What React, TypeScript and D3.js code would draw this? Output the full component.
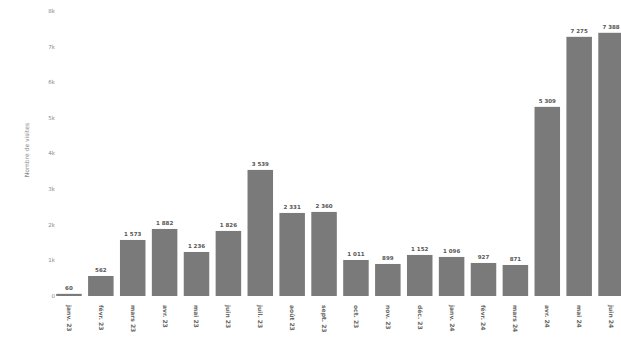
import React from "react";
import * as d3 from "d3";

const categories = [
  "janv. 23", "févr. 23", "mars 23", "avr. 23", "mai 23", "juin 23",
  "juil. 23", "août 23", "sept. 23", "oct. 23", "nov. 23", "déc. 23",
  "janv. 24", "févr. 24", "mars 24", "avr. 24", "mai 24", "juin 24",
];
const values = [60, 562, 1573, 1882, 1236, 1826, 3539, 2331, 2360, 1011, 899, 1152, 1096, 927, 871, 5309, 7275, 7388];
const yTicks = [0, 1000, 2000, 3000, 4000, 5000, 6000, 7000, 8000];
const yTitle = "Nombre de visites";

const W = 621, H = 357;

export default function App() {
  const x = d3.scaleBand<string>().domain(categories).range([53, 627]).paddingInner(0.2).paddingOuter(0.1);
  const y = d3.scaleLinear().domain([0, 8000]).range([296, 11]);
  const fmtTick = d3.format("~s");
  const fmtVal = (v: number) => d3.format(",")(v).replace(/,/g, " ");
  return (
    <svg width={W} height={H} style={{ position: "absolute", left: 0, top: 0, background: "#fff" }}
      fontFamily="DejaVu Sans, sans-serif">
      {yTicks.map((t) => (
        <text key={t} x={55} y={y(t)} dy="0.35em" textAnchor="end" fontSize={5.5} fill="#888">
          {fmtTick(t)}
        </text>
      ))}
      <text transform={`translate(29,150) rotate(-90)`} textAnchor="middle" fontSize={6} fill="#888">
        {yTitle}
      </text>
      {categories.map((c, i) => {
        const bx = x(c)!;
        const bw = x.bandwidth();
        const top = y(values[i]);
        const h = Math.max(y(0) - top, 1.5);
        return (
          <g key={c}>
            <rect x={bx} y={y(0) - h} width={bw} height={h} fill="#7a7a7a" />
            <text x={bx + bw / 2} y={y(0) - h - 4} textAnchor="middle" fontSize={5.5} fontWeight="bold" fill="#555">
              {fmtVal(values[i])}
            </text>
            <text transform={`translate(${bx + bw / 2},${y(0) + 9}) rotate(90)`} dy="0.35em"
              fontSize={6} fontWeight="bold" fill="#666">
              {c}
            </text>
          </g>
        );
      })}
    </svg>
  );
}
